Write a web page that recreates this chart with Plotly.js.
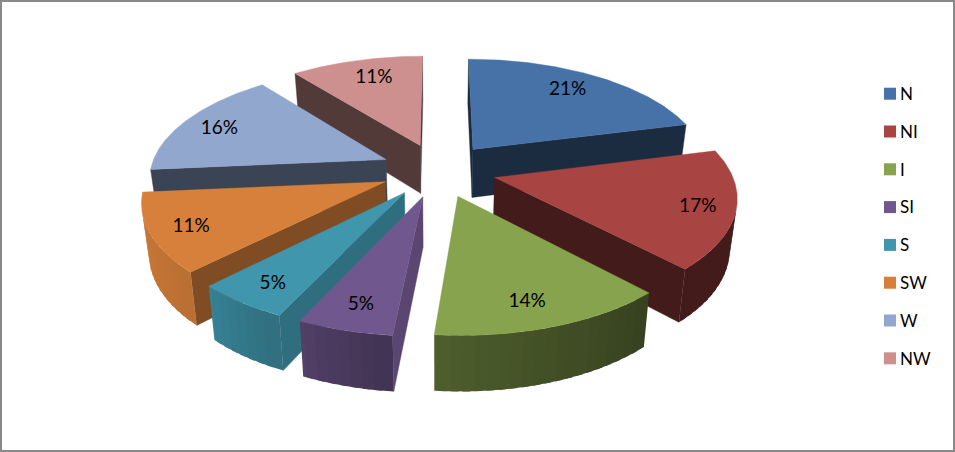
<!DOCTYPE html>
<html>
<head>
<meta charset="utf-8">
<script src="https://cdn.plot.ly/plotly-3.0.1.min.js"></script>
<style>html,body{margin:0;padding:0;background:#fff}#chart{width:955px;height:452px}</style>
</head>
<body>
<div id="chart"></div>
<script>
// Data
const categories = ['N','NI','I','SI','S','SW','W','NW'];
const values = [21, 17, 13.5, 5.45, 5.4, 11.2, 15.8, 10.65];

// Styles
const topColors = ['#4672A8','#A84442','#87A34D','#70578D','#4096AD','#D7803B','#91A7CE','#CE908F'];
const wallShade = [0.38, 0.40, 0.40, 0.81, 0.73, 0.59, 0.41, 0.40];
const shadeAngles = [0, 135, 185, 205, 225, 265, 360];
const shadeLevels = [0.40, 0.40, 0.58, 0.74, 0.87, 0.96, 0.96];
const paintOrder = [0, 7, 6, 1, 5, 4, 2, 3];
const labelRadii = [0.81, 0.846, 0.81, 0.815, 0.825, 0.835, 0.829, 0.793];
const labelTurn = [-2.6, -0.4, 1.7, 0, 0, 0, 0, 2];

// 3-D pie view
const view = {cx: 438.5, cy: 170, rx: 236, ry: 109.5, persp: 0.15, explode: 0.245,
               depthScaleX: 0.975, depthBase: 48, depthSlope: 0.043, depthRef: 149};
const legendBox = {x: 890, textX: 900, top: 93.7, pitch: 37.8, textDrop: 2};

const rad = d => d * Math.PI / 180;
function project(X, Y) {
  const w = 1 - view.persp * Y;
  return [view.cx + view.rx * X / w, view.cy + view.ry * Y / w];
}
function lower(p) {
  return [view.cx + (p[0] - view.cx) * view.depthScaleX,
          p[1] + view.depthBase + view.depthSlope * (p[1] - view.depthRef)];
}
function area(pts) {
  let s = 0;
  pts.forEach((p, i) => { const q = pts[(i + 1) % pts.length]; s += p[0] * q[1] - q[0] * p[1]; });
  return s / 2;
}
function hex(c, f) {
  const n = parseInt(c.slice(1), 16);
  return 'rgb(' + [(n >> 16) & 255, (n >> 8) & 255, n & 255].map(v => Math.round(v * f)).join(',') + ')';
}
function shadeAt(t) {
  for (let i = 1; i < shadeAngles.length; i++) {
    if (t <= shadeAngles[i]) {
      const u = (t - shadeAngles[i - 1]) / (shadeAngles[i] - shadeAngles[i - 1]);
      return shadeLevels[i - 1] + u * (shadeLevels[i] - shadeLevels[i - 1]);
    }
  }
  return shadeLevels[shadeLevels.length - 1];
}
function poly(pts, color, lineWidth) {
  const closed = pts.concat([pts[0]]);
  return {type: 'scatter', mode: 'lines', x: closed.map(p => p[0]), y: closed.map(p => p[1]),
          fill: 'toself', fillcolor: color, line: {color: color, width: lineWidth},
          showlegend: false, hoverinfo: 'skip'};
}

const total = values.reduce((a, b) => a + b, 0);
let cum = 0;
const slices = values.map((v, i) => {
  const a = cum / total * 360; cum += v;
  const b = cum / total * 360;
  const m = rad((a + b) / 2);
  return {i, a, b, ox: view.explode * Math.sin(m), oy: -view.explode * Math.cos(m), mid: (a + b) / 2};
});
function rimPoint(s, t) {
  return project(s.ox + Math.sin(rad(t)), s.oy - Math.cos(rad(t)));
}

const traces = [];
paintOrder.forEach(idx => {
  const s = slices[idx], col = topColors[idx];
  const apex = project(s.ox, s.oy), apexLow = lower(apex);
  // radial walls
  const pa = rimPoint(s, s.a), pb = rimPoint(s, s.b);
  const wallA = [apex, pa, lower(pa), apexLow];
  const wallB = [apex, pb, lower(pb), apexLow];
  if (area(wallA) < 0) traces.push(poly(wallA, hex(col, wallShade[idx]), 0.4));
  if (area(wallB) > 0) traces.push(poly(wallB, hex(col, wallShade[idx]), 0.4));
  // curved rim, in narrow overlapping bands, painted from the far end so no seams show
  const n = Math.max(2, Math.ceil((s.b - s.a) / 2.5));
  for (let k = n - 1; k >= 0; k--) {
    const t0 = s.a + (s.b - s.a) * k / n, t1 = s.a + (s.b - s.a) * (k + 1) / n;
    const tx = Math.min(s.b, t1 + 1.5);
    const check = [rimPoint(s, t0), rimPoint(s, t1), lower(rimPoint(s, t1)), lower(rimPoint(s, t0))];
    if (area(check) < 0) {
      const steps = [t0, (t0 + t1) / 2, t1, tx].map(t => rimPoint(s, t));
      const q = steps.concat(steps.slice().reverse().map(lower));
      traces.push(poly(q, hex(col, shadeAt((t0 + t1) / 2)), 0));
    }
  }
  // top face
  const top = [apex];
  const m = Math.ceil((s.b - s.a) * 2);
  for (let k = 0; k <= m; k++) top.push(rimPoint(s, s.a + (s.b - s.a) * k / m));
  traces.push(poly(top, col, 0.4));
});

// percentage labels
const labelPts = slices.map((s, i) => {
  const t = rad(s.mid + labelTurn[i]);
  const p = project(s.ox + labelRadii[i] * Math.sin(t), s.oy - labelRadii[i] * Math.cos(t));
  return [p[0], p[1] + 3];
});
traces.push({type: 'scatter', mode: 'text', x: labelPts.map(p => p[0]), y: labelPts.map(p => p[1]),
  text: values.map(v => Math.round(v / total * 100) + '%'), textposition: 'middle center',
  textfont: {family: 'Lato, sans-serif', size: 19, color: '#000'}, showlegend: false, hoverinfo: 'skip'});

// legend entries
const legendY = categories.map((c, i) => legendBox.top + legendBox.pitch * i);
traces.push({type: 'scatter', mode: 'markers', x: categories.map(() => legendBox.x), y: legendY,
  marker: {symbol: 'square', size: 12, color: topColors}, showlegend: false, hoverinfo: 'skip'});
traces.push({type: 'scatter', mode: 'text', x: categories.map(() => legendBox.textX),
  y: legendY.map(y => y + legendBox.textDrop), text: categories, textposition: 'middle right',
  textfont: {family: 'Lato, sans-serif', size: 17, color: '#000'}, showlegend: false, hoverinfo: 'skip'});

const layout = {
  width: 955, height: 452, margin: {l: 0, r: 0, t: 0, b: 0, pad: 0},
  paper_bgcolor: '#fff', plot_bgcolor: '#fff',
  xaxis: {range: [0, 955], visible: false, fixedrange: true},
  yaxis: {range: [452, 0], visible: false, fixedrange: true},
  showlegend: false,
  shapes: [{type: 'rect', xref: 'x', yref: 'y', x0: 1, y0: 1, x1: 954, y1: 451,
    line: {color: '#898989', width: 2}, fillcolor: 'rgba(0,0,0,0)'}]
};
Plotly.newPlot('chart', traces, layout, {displayModeBar: false, responsive: false});
</script>
</body>
</html>
